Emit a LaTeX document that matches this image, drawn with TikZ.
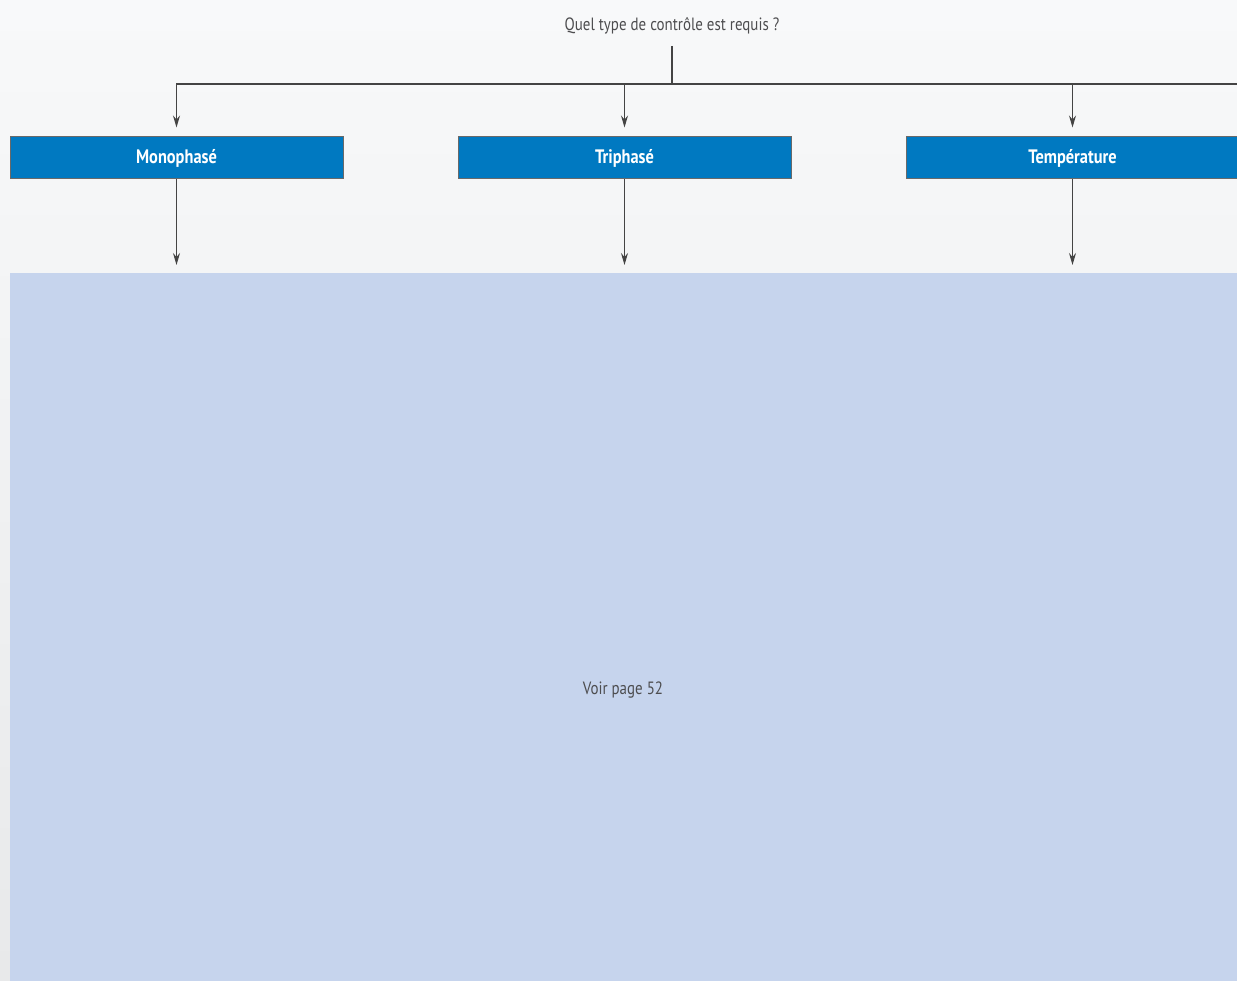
\documentclass[tikz,border=0pt]{standalone}
\usepackage{fontspec}
\setmainfont{PT Sans}[FakeStretch=0.84]
\usepackage{xcolor}
\definecolor{boxBlue}{HTML}{0079C1}
\definecolor{lineGray}{HTML}{444444}
\definecolor{panelBlue}{HTML}{C6D4ED}
\definecolor{textGray}{HTML}{4D4D4F}
\definecolor{bgTop}{HTML}{F8F9FA}
\definecolor{bgBottom}{HTML}{E8E9EA}
\usepackage{tikz}
\usetikzlibrary{
    arrows.meta,
    positioning
}
\tikzset{
    % Base style for all texts
    label base/.style={
        font=\fontsize{17.8}{20}\selectfont,
        align=center,
        text=textGray,
    },
    % Blue choice boxes
    choice/.style={
        font=\fontsize{19.5}{22}\selectfont\bfseries,
        text=white,
        fill=boxBlue,
        draw=lineGray!80,
        line width=1pt,
        minimum width=333pt,
        minimum height=42pt,
        inner sep=0pt,
    },
    % Plain connector
    line/.style={
        draw=lineGray,
        line width=1.1pt,
    },
    % Arrow
    arrow/.style={
        line,
        -{Stealth[length=12pt, width=7pt, inset=4pt]},
    },
}

\begin{document}
\begin{tikzpicture}[x=1pt, y=-1pt]
    \clip (0,0) rectangle (1237,981);
    \useasboundingbox (0,0) rectangle (1237,981);
    \fill[top color=bgTop, bottom color=bgBottom] (0,0) rectangle (1237,981);

    \node (question) [label base] at (672,26) {Quel type de contrôle est requis ?};
    \coordinate (split) at (672,84);
    \coordinate (railEnd) at (1245,84);

    \node (mono) [choice] at (176.5,158) {Monophasé};
    \node (tri) [choice] at (624.5,158) {Triphasé};
    \node (temp) [choice] at (1072.5,158) {Température};

    \node (panel) [fill=panelBlue, minimum width=1240pt, minimum height=708pt, anchor=north west, inner sep=0pt] at (10,273) {};
    \node (see) [label base] at (623,690) {Voir page 52};

    \draw [line, shorten <=8pt] (question.south) -- (split);
    \draw [line] (split) -- (railEnd);
    \draw [arrow, shorten >=9pt] (split) -| (mono.north);
    \draw [arrow, shorten >=9pt] (split) -| (tri.north);
    \draw [arrow, shorten >=9pt] (split) -| (temp.north);
    \draw [arrow, shorten >=8pt] (mono) -- (mono |- panel.north);
    \draw [arrow, shorten >=8pt] (tri) -- (tri |- panel.north);
    \draw [arrow, shorten >=8pt] (temp) -- (temp |- panel.north);
\end{tikzpicture}
\end{document}
